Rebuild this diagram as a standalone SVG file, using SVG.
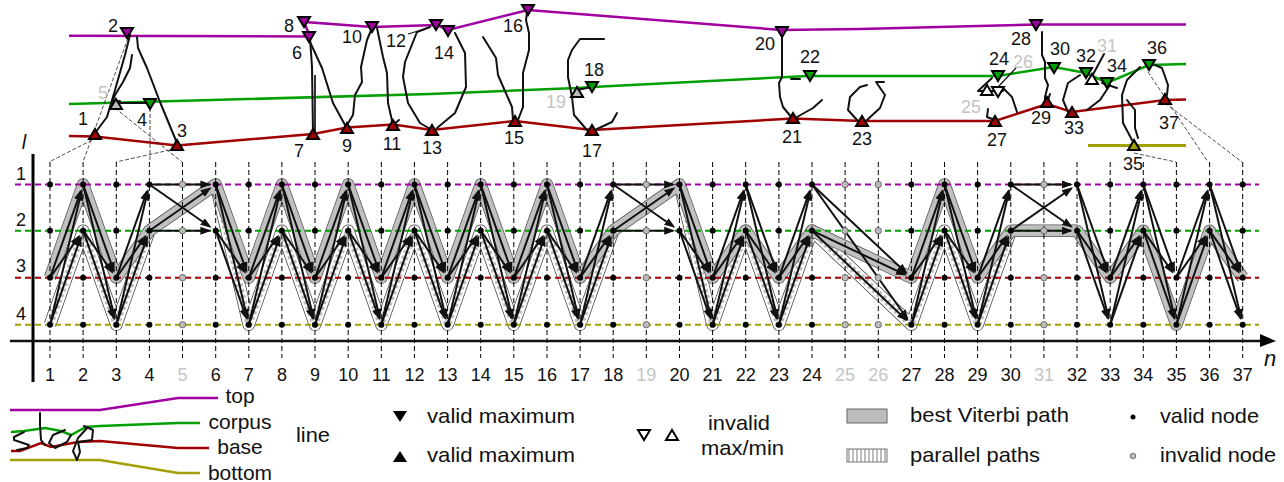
<svg xmlns="http://www.w3.org/2000/svg" width="1284" height="482" viewBox="0 0 1284 482">
<style>
text{font-family:"Liberation Sans",Arial,sans-serif;font-size:18px;fill:#111;text-anchor:middle}
.g{fill:#c4c4c4}
.lg{font-size:21px;text-anchor:start}
.lc{font-size:21px}
.it{font-style:italic}
.pl{fill:none;stroke-width:2.5}
.pu{stroke:#a000a0}.gr{stroke:#00a000}.re{stroke:#a00000}.ol{stroke:#a0a000}
.row{fill:none;stroke-width:2;stroke-dasharray:6 4}
.vt{stroke:#000;stroke-width:1;stroke-dasharray:5 3}
.ink{fill:none;stroke:#111;stroke-width:2;stroke-linejoin:round;stroke-linecap:round}
.thin{fill:none;stroke:#222;stroke-width:.8;stroke-dasharray:4 2}
.tri{stroke:#000;stroke-width:2;stroke-linejoin:miter}
.bo{fill:none;stroke:#555;stroke-width:12.5;stroke-linejoin:round}
.bi{fill:none;stroke:#c0c0c0;stroke-width:11;stroke-linejoin:round}
.po{fill:none;stroke:#444;stroke-width:12.5;stroke-linejoin:round}
.pw{fill:none;stroke:#fff;stroke-width:11;stroke-linejoin:round}
.ph{fill:none;stroke:#bdbdbd;stroke-width:7;stroke-dasharray:3 3;stroke-linejoin:round}
.ar{stroke:#111;stroke-width:2;fill:none;marker-end:url(#ah)}
</style>
<defs>
<marker id="ah" markerUnits="userSpaceOnUse" markerWidth="13" markerHeight="10" refX="9" refY="5" orient="auto"><path d="M0,1 L11,5 L0,9 z" fill="#111"/></marker>
<pattern id="hat" patternUnits="userSpaceOnUse" width="4" height="4"><rect width="4" height="4" fill="#fff"/><rect width="2" height="4" fill="#bdbdbd"/></pattern>
<polygon id="dn" points="-6,-5 6,-5 0,5" class="tri"/>
<polygon id="up" points="-6,5 6,5 0,-5" class="tri"/>
<g id="vd" fill="#000"><circle cy="184.5" r="3"/><circle cy="230.7" r="3"/><circle cy="277.7" r="3"/><circle cy="324.7" r="3"/></g>
<g id="id" fill="#bbb" stroke="#555" stroke-width=".8"><circle cy="184.5" r="3.2"/><circle cy="230.7" r="3.2"/><circle cy="277.7" r="3.2"/><circle cy="324.7" r="3.2"/></g>
<g id="aU"><line class="ar" x1="0" y1="277.7" x2="30.8" y2="191.1"/><line class="ar" x1="0" y1="277.7" x2="29.1" y2="236.4"/><line class="ar" x1="0" y1="324.7" x2="31.5" y2="191.3"/><line class="ar" x1="0" y1="324.7" x2="30.8" y2="237.3"/></g>
<g id="aD"><line class="ar" x1="0" y1="184.5" x2="30.8" y2="271.1"/><line class="ar" x1="0" y1="184.5" x2="31.5" y2="317.9"/><line class="ar" x1="0" y1="230.7" x2="29.1" y2="272"/><line class="ar" x1="0" y1="230.7" x2="30.8" y2="318.1"/></g>
<g id="aS"><line class="ar" x1="0" y1="184.5" x2="60" y2="184.5"/><line class="ar" x1="0" y1="184.5" x2="60.5" y2="226.7"/><line class="ar" x1="0" y1="230.7" x2="60.5" y2="188.5"/><line class="ar" x1="0" y1="230.7" x2="60" y2="230.7"/></g>
<g id="aL"><line class="ar" x1="0" y1="184.5" x2="94.3" y2="272.9"/><line class="ar" x1="0" y1="184.5" x2="95.4" y2="319"/><line class="ar" x1="0" y1="230.7" x2="93.1" y2="274.7"/><line class="ar" x1="0" y1="230.7" x2="94.3" y2="319.9"/></g>
<polyline id="p1" points="50,324.7 83.1,230.7 116.3,324.7 149.4,230.7"/>
<polyline id="p2" points="215.7,184.5 248.8,324.7 281.9,230.7 315,324.7 348.2,230.7 381.3,324.7 414.4,230.7 447.6,324.7 480.7,230.7 513.8,324.7 547,230.7 580.1,324.7 613.2,230.7"/>
<polyline id="p3" points="679.5,184.5 712.6,324.7 745.7,230.7 778.9,324.7 812,230.7 911.4,324.7 944.5,230.7 977.6,324.7 1010.8,230.7"/>
<polyline id="best" points="50,277.7 83.1,184.5 116.3,277.7 149.4,230.7 215.7,184.5 248.8,277.7 281.9,184.5 315,277.7 348.2,184.5 381.3,277.7 414.4,184.5 447.6,277.7 480.7,184.5 513.8,277.7 547,184.5 580.1,277.7 613.2,230.7 679.5,184.5 712.6,277.7 745.7,230.7 778.9,277.7 812,230.7 911.4,277.7 944.5,184.5 977.6,277.7 1010.8,230.7 1077,230.7 1110.2,277.7 1143.3,230.7 1176.4,324.7 1209.6,230.7 1242.7,277.7"/>
</defs>

<g id="reference-lines">
<polyline class="pl pu" points="69,35.7 310,36.5 304,22 372,27 437,25 448,30 528,10 782,30 860,29 1036,24.5 1186,24.5"/>
<polyline class="pl gr" points="69,104 430,94 577,88 592,87 808,76 998,76 1054,67 1086,73 1107,83 1149,65 1186,64"/>
<polyline class="pl re" points="69,136 95,136.5 177,145.5 313,134 347,127.5 393,124.5 432,130 515,121 592,130 793,118.5 862,121 995,121 1047,104 1072,112 1165,100 1186,99.5"/>
<line class="ol" x1="1088" y1="145.5" x2="1186" y2="145.5" stroke-width="3"/>
</g>

<g id="handwriting">
<polyline class="ink" points="95,133 107,117 115,90 125,55 130,35"/>
<polyline class="ink" points="132,55 130,68 123,82 115,95 112,103 120,101"/>
<line class="ink" x1="116" y1="103" x2="150" y2="103"/>
<polyline class="ink" points="137,37 138,48 147,68 160,102 177,143"/>
<polyline class="ink" points="310,38 312,67 313,133"/>
<line x1="315" y1="75" x2="315" y2="132" stroke="#333" stroke-width="2"/>
<polyline class="ink" points="310,42 322,68 333,103 345,125"/>
<polyline class="ink" points="347,125 353,115 355,95 362,82 361,67 367,40 372,28"/>
<polyline class="ink" points="377,28 383,57 387,73 388,103 393,125 399,120"/>
<polyline class="ink" points="430,27 417,32 405,62 403,77 408,103 420,123 432,130"/>
<line x1="408" y1="34" x2="425" y2="29" stroke="#111" stroke-width="1.2"/>
<polyline class="ink" points="455,33 465,53 466,87 455,113 437,128"/>
<polyline class="ink" points="483,37 496,58 498,75 512,107 513,120"/>
<polyline class="ink" points="518,120 523,107 523,73 529,50 529,33 526,20 527,13"/>
<polyline class="ink" points="604,39 580,39 572,50 568,60 568,77 572,97 574,115 587,130"/>
<line class="ink" x1="577" y1="90" x2="592" y2="87"/>
<polyline class="ink" points="597,129 612,122 617,113"/>
<polyline class="ink" points="782,35 782,77 779,83 780,97 783,107 792,118"/>
<polyline class="ink" points="797,117 813,108 822,100"/>
<line class="ink" x1="791" y1="79" x2="800" y2="79"/>
<polyline class="ink" points="867,85 860,87 850,97 848,110 857,120"/>
<polyline class="ink" points="884,82 876,82 885,95 880,108 867,120"/>
<polyline class="ink" points="992,78 978,91 1003,91"/>
<polyline class="ink" points="1003,88 1012,97 1017,112"/>
<polyline class="ink" points="988,109 987,117 995,120"/>
<line x1="1016" y1="68" x2="998" y2="87" stroke="#111" stroke-width="1.2"/>
<polyline class="ink" points="1042,32 1042,55 1045,62 1045,78 1048,85 1045,97 1045,103"/>
<line class="ink" x1="1050" y1="94" x2="1048" y2="100"/>
<polyline class="ink" points="1080,75 1068,83 1063,100 1068,112"/>
<polyline class="ink" points="1087,110 1100,100 1110,85"/>
<line class="ink" x1="1102" y1="83" x2="1117" y2="88"/>
<line class="ink" x1="1104" y1="54" x2="1090" y2="80"/>
<polyline class="ink" points="1140,67 1127,80 1122,95 1123,123 1132,140"/>
<polyline class="ink" points="1127,100 1135,110 1135,128 1138,138"/>
<polyline class="ink" points="1155,65 1162,68 1168,85 1167,95"/>
</g>

<g id="leaders">
<line class="thin" x1="92" y1="140" x2="49" y2="162"/>
<line class="thin" x1="128" y1="38" x2="83" y2="162"/>
<line class="thin" x1="170" y1="150" x2="116" y2="162"/>
<line class="thin" x1="150" y1="108" x2="150" y2="162"/>
<line class="thin" x1="115" y1="108" x2="182" y2="162"/>
<line class="thin" x1="1134" y1="153" x2="1176" y2="162"/>
<line class="thin" x1="1148" y1="72" x2="1208" y2="162"/>
<line class="thin" x1="1165" y1="103" x2="1242" y2="162"/>
</g>

<g id="extrema">
<g id="e1"><use href="#up" x="95" y="134" fill="#a00000"/><text x="83" y="125">1</text></g>
<g id="e2"><use href="#dn" x="127" y="33" fill="#a000a0"/><text x="113" y="32">2</text></g>
<g id="e3"><use href="#up" x="177" y="145" fill="#a00000"/><text x="182" y="137">3</text></g>
<g id="e4"><use href="#dn" x="150" y="104" fill="#00a000"/><text x="142" y="126">4</text></g>
<g id="e5"><use href="#up" x="116" y="104" fill="#bbb"/><text class="g" x="103" y="99">5</text></g>
<g id="e6"><use href="#dn" x="309" y="37" fill="#a000a0"/><text x="297" y="59">6</text></g>
<g id="e7"><use href="#up" x="313" y="134" fill="#a00000"/><text x="299" y="157">7</text></g>
<g id="e8"><use href="#dn" x="304" y="22" fill="#a000a0"/><text x="289" y="32">8</text></g>
<g id="e9"><use href="#up" x="347" y="128" fill="#a00000"/><text x="347" y="152">9</text></g>
<g id="e10"><use href="#dn" x="372" y="27" fill="#a000a0"/><text x="352" y="43">10</text></g>
<g id="e11"><use href="#up" x="393" y="125" fill="#a00000"/><text x="392" y="150">11</text></g>
<g id="e12"><use href="#dn" x="436" y="25" fill="#a000a0"/><text x="396" y="47">12</text></g>
<g id="e13"><use href="#up" x="432" y="130" fill="#a00000"/><text x="432" y="154">13</text></g>
<g id="e14"><use href="#dn" x="448" y="31" fill="#a000a0"/><text x="444" y="59">14</text></g>
<g id="e15"><use href="#up" x="515" y="121" fill="#a00000"/><text x="514" y="144">15</text></g>
<g id="e16"><use href="#dn" x="528" y="10" fill="#a000a0"/><text x="513" y="32">16</text></g>
<g id="e17"><use href="#up" x="592" y="130" fill="#a00000"/><text x="592" y="157">17</text></g>
<g id="e18"><use href="#dn" x="592" y="87" fill="#00a000"/><text x="594" y="76">18</text></g>
<g id="e19"><use href="#up" x="577" y="92" fill="#bbb"/><text class="g" x="556" y="108">19</text></g>
<g id="e20"><use href="#dn" x="782" y="32" fill="#a000a0"/><text x="765" y="50">20</text></g>
<g id="e21"><use href="#up" x="793" y="118" fill="#a00000"/><text x="792" y="143">21</text></g>
<g id="e22"><use href="#dn" x="810" y="76" fill="#00a000"/><text x="810" y="63">22</text></g>
<g id="e23"><use href="#up" x="862" y="121" fill="#a00000"/><text x="862" y="145">23</text></g>
<g id="e24"><use href="#dn" x="998" y="76" fill="#00a000"/><text x="999" y="65">24</text></g>
<g id="e25"><use href="#up" x="987" y="90" fill="#fff"/><text class="g" x="971" y="113">25</text></g>
<g id="e26"><use href="#dn" x="998" y="92" fill="#fff"/><text class="g" x="1023" y="68">26</text></g>
<g id="e27"><use href="#up" x="995" y="121" fill="#a00000"/><text x="997" y="146">27</text></g>
<g id="e28"><use href="#dn" x="1036" y="25" fill="#a000a0"/><text x="1021" y="45">28</text></g>
<g id="e29"><use href="#up" x="1047" y="102" fill="#a00000"/><text x="1041" y="124">29</text></g>
<g id="e30"><use href="#dn" x="1054" y="68" fill="#00a000"/><text x="1060" y="55">30</text></g>
<g id="e31"><use href="#up" x="1092" y="79" fill="#fff"/><text class="g" x="1107" y="52">31</text></g>
<g id="e32"><use href="#dn" x="1086" y="73" fill="#00a000"/><text x="1086" y="62">32</text></g>
<g id="e33"><use href="#up" x="1072" y="112" fill="#a00000"/><text x="1074" y="134">33</text></g>
<g id="e34"><use href="#dn" x="1107" y="83" fill="#00a000"/><text x="1117" y="72">34</text></g>
<g id="e35"><use href="#up" x="1134" y="145" fill="#a0a000"/><text x="1133" y="170">35</text></g>
<g id="e36"><use href="#dn" x="1149" y="65" fill="#00a000"/><text x="1157" y="54">36</text></g>
<g id="e37"><use href="#up" x="1165" y="99" fill="#a00000"/><text x="1169" y="129">37</text></g>
</g>

<g id="paths">
<use href="#p1" class="po"/><use href="#p2" class="po"/><use href="#p3" class="po"/>
<use href="#p1" class="pw"/><use href="#p2" class="pw"/><use href="#p3" class="pw"/>
<use href="#p1" class="ph"/><use href="#p2" class="ph"/><use href="#p3" class="ph"/>
<use href="#best" class="bo"/><use href="#best" class="bi"/>
</g>

<g id="grid">
<line class="vt" x1="50" y1="162" x2="50" y2="358"/><line class="vt" x1="83.1" y1="162" x2="83.1" y2="358"/><line class="vt" x1="116.3" y1="162" x2="116.3" y2="358"/><line class="vt" x1="149.4" y1="162" x2="149.4" y2="358"/><line class="vt" x1="182.5" y1="162" x2="182.5" y2="358"/><line class="vt" x1="215.7" y1="162" x2="215.7" y2="358"/><line class="vt" x1="248.8" y1="162" x2="248.8" y2="358"/><line class="vt" x1="281.9" y1="162" x2="281.9" y2="358"/><line class="vt" x1="315" y1="162" x2="315" y2="358"/><line class="vt" x1="348.2" y1="162" x2="348.2" y2="358"/><line class="vt" x1="381.3" y1="162" x2="381.3" y2="358"/><line class="vt" x1="414.4" y1="162" x2="414.4" y2="358"/><line class="vt" x1="447.6" y1="162" x2="447.6" y2="358"/><line class="vt" x1="480.7" y1="162" x2="480.7" y2="358"/><line class="vt" x1="513.8" y1="162" x2="513.8" y2="358"/><line class="vt" x1="547" y1="162" x2="547" y2="358"/><line class="vt" x1="580.1" y1="162" x2="580.1" y2="358"/><line class="vt" x1="613.2" y1="162" x2="613.2" y2="358"/><line class="vt" x1="646.3" y1="162" x2="646.3" y2="358"/><line class="vt" x1="679.5" y1="162" x2="679.5" y2="358"/><line class="vt" x1="712.6" y1="162" x2="712.6" y2="358"/><line class="vt" x1="745.7" y1="162" x2="745.7" y2="358"/><line class="vt" x1="778.9" y1="162" x2="778.9" y2="358"/><line class="vt" x1="812" y1="162" x2="812" y2="358"/><line class="vt" x1="845.1" y1="162" x2="845.1" y2="358"/><line class="vt" x1="878.3" y1="162" x2="878.3" y2="358"/><line class="vt" x1="911.4" y1="162" x2="911.4" y2="358"/><line class="vt" x1="944.5" y1="162" x2="944.5" y2="358"/><line class="vt" x1="977.6" y1="162" x2="977.6" y2="358"/><line class="vt" x1="1010.8" y1="162" x2="1010.8" y2="358"/><line class="vt" x1="1043.9" y1="162" x2="1043.9" y2="358"/><line class="vt" x1="1077" y1="162" x2="1077" y2="358"/><line class="vt" x1="1110.2" y1="162" x2="1110.2" y2="358"/><line class="vt" x1="1143.3" y1="162" x2="1143.3" y2="358"/><line class="vt" x1="1176.4" y1="162" x2="1176.4" y2="358"/><line class="vt" x1="1209.6" y1="162" x2="1209.6" y2="358"/><line class="vt" x1="1242.7" y1="162" x2="1242.7" y2="358"/>
<line class="row pu" x1="15" y1="184.5" x2="1259" y2="184.5"/>
<line class="row gr" x1="15" y1="230.7" x2="1259" y2="230.7"/>
<line class="row re" x1="15" y1="277.7" x2="1259" y2="277.7"/>
<line class="row ol" x1="15" y1="324.7" x2="1259" y2="324.7"/>
</g>

<g id="connectors">
<use href="#aU" x="50"/><use href="#aD" x="83.1"/><use href="#aU" x="116.3"/><use href="#aS" x="149.4"/><use href="#aD" x="215.7"/><use href="#aU" x="248.8"/><use href="#aD" x="281.9"/><use href="#aU" x="315"/><use href="#aD" x="348.2"/><use href="#aU" x="381.3"/><use href="#aD" x="414.4"/><use href="#aU" x="447.6"/><use href="#aD" x="480.7"/><use href="#aU" x="513.8"/><use href="#aD" x="547"/><use href="#aU" x="580.1"/><use href="#aS" x="613.2"/><use href="#aD" x="679.5"/><use href="#aU" x="712.6"/><use href="#aD" x="745.7"/><use href="#aU" x="778.9"/><use href="#aL" x="812"/><use href="#aU" x="911.4"/><use href="#aD" x="944.5"/><use href="#aU" x="977.6"/><use href="#aS" x="1010.8"/><use href="#aD" x="1077"/><use href="#aU" x="1110.2"/><use href="#aD" x="1143.3"/><use href="#aU" x="1176.4"/><use href="#aD" x="1209.6"/>
</g>

<g id="lattice-nodes">
<use href="#vd" x="50"/><use href="#vd" x="83.1"/><use href="#vd" x="116.3"/><use href="#vd" x="149.4"/><use href="#id" x="182.5"/><use href="#vd" x="215.7"/><use href="#vd" x="248.8"/><use href="#vd" x="281.9"/><use href="#vd" x="315"/><use href="#vd" x="348.2"/><use href="#vd" x="381.3"/><use href="#vd" x="414.4"/><use href="#vd" x="447.6"/><use href="#vd" x="480.7"/><use href="#vd" x="513.8"/><use href="#vd" x="547"/><use href="#vd" x="580.1"/><use href="#vd" x="613.2"/><use href="#id" x="646.3"/><use href="#vd" x="679.5"/><use href="#vd" x="712.6"/><use href="#vd" x="745.7"/><use href="#vd" x="778.9"/><use href="#vd" x="812"/><use href="#id" x="845.1"/><use href="#id" x="878.3"/><use href="#vd" x="911.4"/><use href="#vd" x="944.5"/><use href="#vd" x="977.6"/><use href="#vd" x="1010.8"/><use href="#id" x="1043.9"/><use href="#vd" x="1077"/><use href="#vd" x="1110.2"/><use href="#vd" x="1143.3"/><use href="#vd" x="1176.4"/><use href="#vd" x="1209.6"/><use href="#vd" x="1242.7"/>
</g>

<g id="axes">
<line x1="33" y1="154" x2="33" y2="382" stroke="#000" stroke-width="3"/>
<line x1="10" y1="341" x2="1264" y2="341" stroke="#111" stroke-width="2.5"/>
<polygon points="1260,334 1276,341 1260,347" fill="#000"/>
<text class="it" x="24" y="149" style="font-size:20px">l</text>
<text class="it" x="1270" y="366" style="font-size:22px">n</text>
<text x="21" y="180">1</text><text x="21" y="226">2</text><text x="21" y="272">3</text><text x="21" y="320">4</text>
</g>

<g id="column-numbers">
<text x="50" y="381">1</text><text x="83.1" y="381">2</text><text x="116.3" y="381">3</text><text x="149.4" y="381">4</text><text class="g" x="182.5" y="381">5</text><text x="215.7" y="381">6</text><text x="248.8" y="381">7</text><text x="281.9" y="381">8</text><text x="315" y="381">9</text><text x="348.2" y="381">10</text><text x="381.3" y="381">11</text><text x="414.4" y="381">12</text><text x="447.6" y="381">13</text><text x="480.7" y="381">14</text><text x="513.8" y="381">15</text><text x="547" y="381">16</text><text x="580.1" y="381">17</text><text x="613.2" y="381">18</text><text class="g" x="646.3" y="381">19</text><text x="679.5" y="381">20</text><text x="712.6" y="381">21</text><text x="745.7" y="381">22</text><text x="778.9" y="381">23</text><text x="812" y="381">24</text><text class="g" x="845.1" y="381">25</text><text class="g" x="878.3" y="381">26</text><text x="911.4" y="381">27</text><text x="944.5" y="381">28</text><text x="977.6" y="381">29</text><text x="1010.8" y="381">30</text><text class="g" x="1043.9" y="381">31</text><text x="1077" y="381">32</text><text x="1110.2" y="381">33</text><text x="1143.3" y="381">34</text><text x="1176.4" y="381">35</text><text x="1209.6" y="381">36</text><text x="1242.7" y="381">37</text>
</g>

<g id="legend">
<polyline class="pl pu" points="10,410 100,410 178,398 218,398"/>
<polyline class="pl gr" points="11,432 24,431 45,428 61,431 71,435 86,427 100,426 178,423 200,423"/>
<polyline class="pl re" points="11,451 20,451 41,443 51,447 78,442 100,441 178,448 209,448"/>
<polyline class="pl ol" points="10,460 100,460 178,473 200,473"/>
<polyline class="ink" points="24,432 14,437 14,440 29,445 27,448 17,450"/>
<polyline class="ink" points="40,413 40,425 41,440 45,445"/>
<polyline class="ink" points="65,430 53,435 49,443 55,448 67,442 71,435"/>
<polyline class="ink" points="88,427 78,438 73,451 77,460 80,452 78,442 92,440 93,430 84,426"/>
<text class="lc" x="240" y="403">top</text>
<text class="lc" x="240" y="429">corpus</text>
<text class="lc" x="240" y="454">base</text>
<text class="lc" x="240" y="480">bottom</text>
<text class="lg" x="296" y="442" textLength="34" lengthAdjust="spacingAndGlyphs">line</text>
<polygon points="393,411 407,411 400,422" fill="#000"/>
<polygon points="393,462 407,462 400,451" fill="#000"/>
<text class="lg" x="427" y="423" textLength="148" lengthAdjust="spacingAndGlyphs">valid maximum</text>
<text class="lg" x="427" y="462" textLength="148" lengthAdjust="spacingAndGlyphs">valid maximum</text>
<use href="#dn" x="644" y="435" fill="#fff"/>
<use href="#up" x="672" y="435" fill="#fff"/>
<text class="lg" x="708" y="430" textLength="62" lengthAdjust="spacingAndGlyphs">invalid</text>
<text class="lg" x="701" y="455" textLength="83" lengthAdjust="spacingAndGlyphs">max/min</text>
<rect x="847" y="409" width="40" height="14" fill="#bdbdbd" stroke="#666"/>
<rect x="847" y="449" width="40" height="13" fill="url(#hat)" stroke="#777"/>
<text class="lg" x="910" y="422" textLength="159" lengthAdjust="spacingAndGlyphs">best Viterbi path</text>
<text class="lg" x="910" y="462" textLength="130" lengthAdjust="spacingAndGlyphs">parallel paths</text>
<circle cx="1133" cy="417" r="2.5" fill="#000"/>
<circle cx="1133" cy="456" r="2.8" fill="#bbb" stroke="#555" stroke-width=".8"/>
<text class="lg" x="1160" y="423" textLength="99" lengthAdjust="spacingAndGlyphs">valid node</text>
<text class="lg" x="1160" y="462" textLength="116" lengthAdjust="spacingAndGlyphs">invalid node</text>
</g>
</svg>
